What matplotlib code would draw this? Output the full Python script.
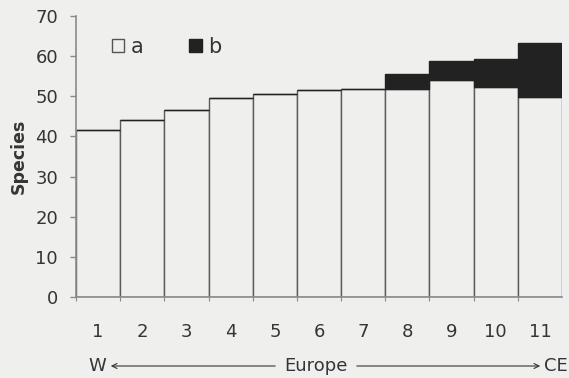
import matplotlib
matplotlib.use("Agg")
import matplotlib.pyplot as plt
from matplotlib.patches import Patch, FancyArrowPatch

# Species counts per region, west to central-east Europe
regions = ["1", "2", "3", "4", "5", "6", "7", "8", "9", "10", "11"]
series_a = [41.5, 44.0, 46.6, 49.5, 50.5, 51.6, 51.8, 51.8, 54.0, 52.4, 49.7]
series_b = [0.0, 0.0, 0.0, 0.0, 0.0, 0.0, 0.0, 3.8, 4.9, 6.9, 13.5]
y_ticks = [0, 10, 20, 30, 40, 50, 60, 70]

bg = "#efefed"
edge = "#5a5a5a"
txt = "#353535"
dark = "#222222"

plt.rcParams["font.family"] = ["DejaVu Sans"]

fig = plt.figure(figsize=(5.69, 3.78), dpi=100, facecolor=bg)
ax = fig.add_axes([0.1336, 0.2143, 0.8541, 0.7434], facecolor=bg)

x = list(range(1, len(regions) + 1))
ax.bar(x, series_a, width=1.0, color=bg, edgecolor=edge, linewidth=1.0, label="a")
ax.bar(x, series_b, width=1.0, bottom=series_a, color=dark,
       edgecolor=dark, linewidth=1.0, label="b")

ax.set_xlim(0.5, 11.5)
ax.set_ylim(0, 70)
ax.set_yticks(y_ticks)
ax.set_xticks(x)
ax.set_xticklabels(regions)
ax.set_xticks([i + 0.5 for i in range(0, 11)], minor=True)

for s in ["top", "right"]:
    ax.spines[s].set_visible(False)
for s in ["left", "bottom"]:
    ax.spines[s].set_color("#8a8a8a")
    ax.spines[s].set_linewidth(1.2)

ax.tick_params(axis="y", length=4, width=1, color="#8a8a8a", labelsize=13,
               labelcolor=txt, pad=9)
ax.tick_params(axis="x", which="major", length=0, labelsize=13,
               labelcolor=txt, pad=19)
ax.tick_params(axis="x", which="minor", length=3, width=0.8, color="#8a8a8a")

ax.set_ylabel("Species", fontsize=12.5, fontweight="bold", color=txt)
ax.yaxis.set_label_coords(-0.1, 0.5)

handles = [Patch(facecolor=bg, edgecolor="#555555", linewidth=1.0),
           Patch(facecolor=dark, edgecolor=dark)]
ax.legend(handles, ["a", "b"], ncol=2, frameon=False, loc="center left",
          bbox_to_anchor=(0.074, 0.89), handlelength=0.6, handleheight=0.6,
          handletextpad=0.3, columnspacing=2.2, fontsize=15,
          labelcolor=txt, borderaxespad=0, borderpad=0)

# direction annotation under the axis
yrow = 1 - 366 / 378
fig.text(97 / 569, yrow, "W", ha="center", va="center", fontsize=13, color=txt)
fig.text(316 / 569, yrow, "Europe", ha="center", va="center", fontsize=13, color=txt)
fig.text(556 / 569, yrow, "CE", ha="center", va="center", fontsize=13, color=txt)
fig.add_artist(FancyArrowPatch(
    (278 / 569, yrow), (108 / 569, yrow),
    transform=fig.transFigure, arrowstyle="->", mutation_scale=9,
    color=txt, linewidth=0.8))
fig.add_artist(FancyArrowPatch(
    (354 / 569, yrow), (543 / 569, yrow),
    transform=fig.transFigure, arrowstyle="->", mutation_scale=9,
    color=txt, linewidth=0.8))

fig.savefig("out.png", dpi=100, facecolor=bg)
